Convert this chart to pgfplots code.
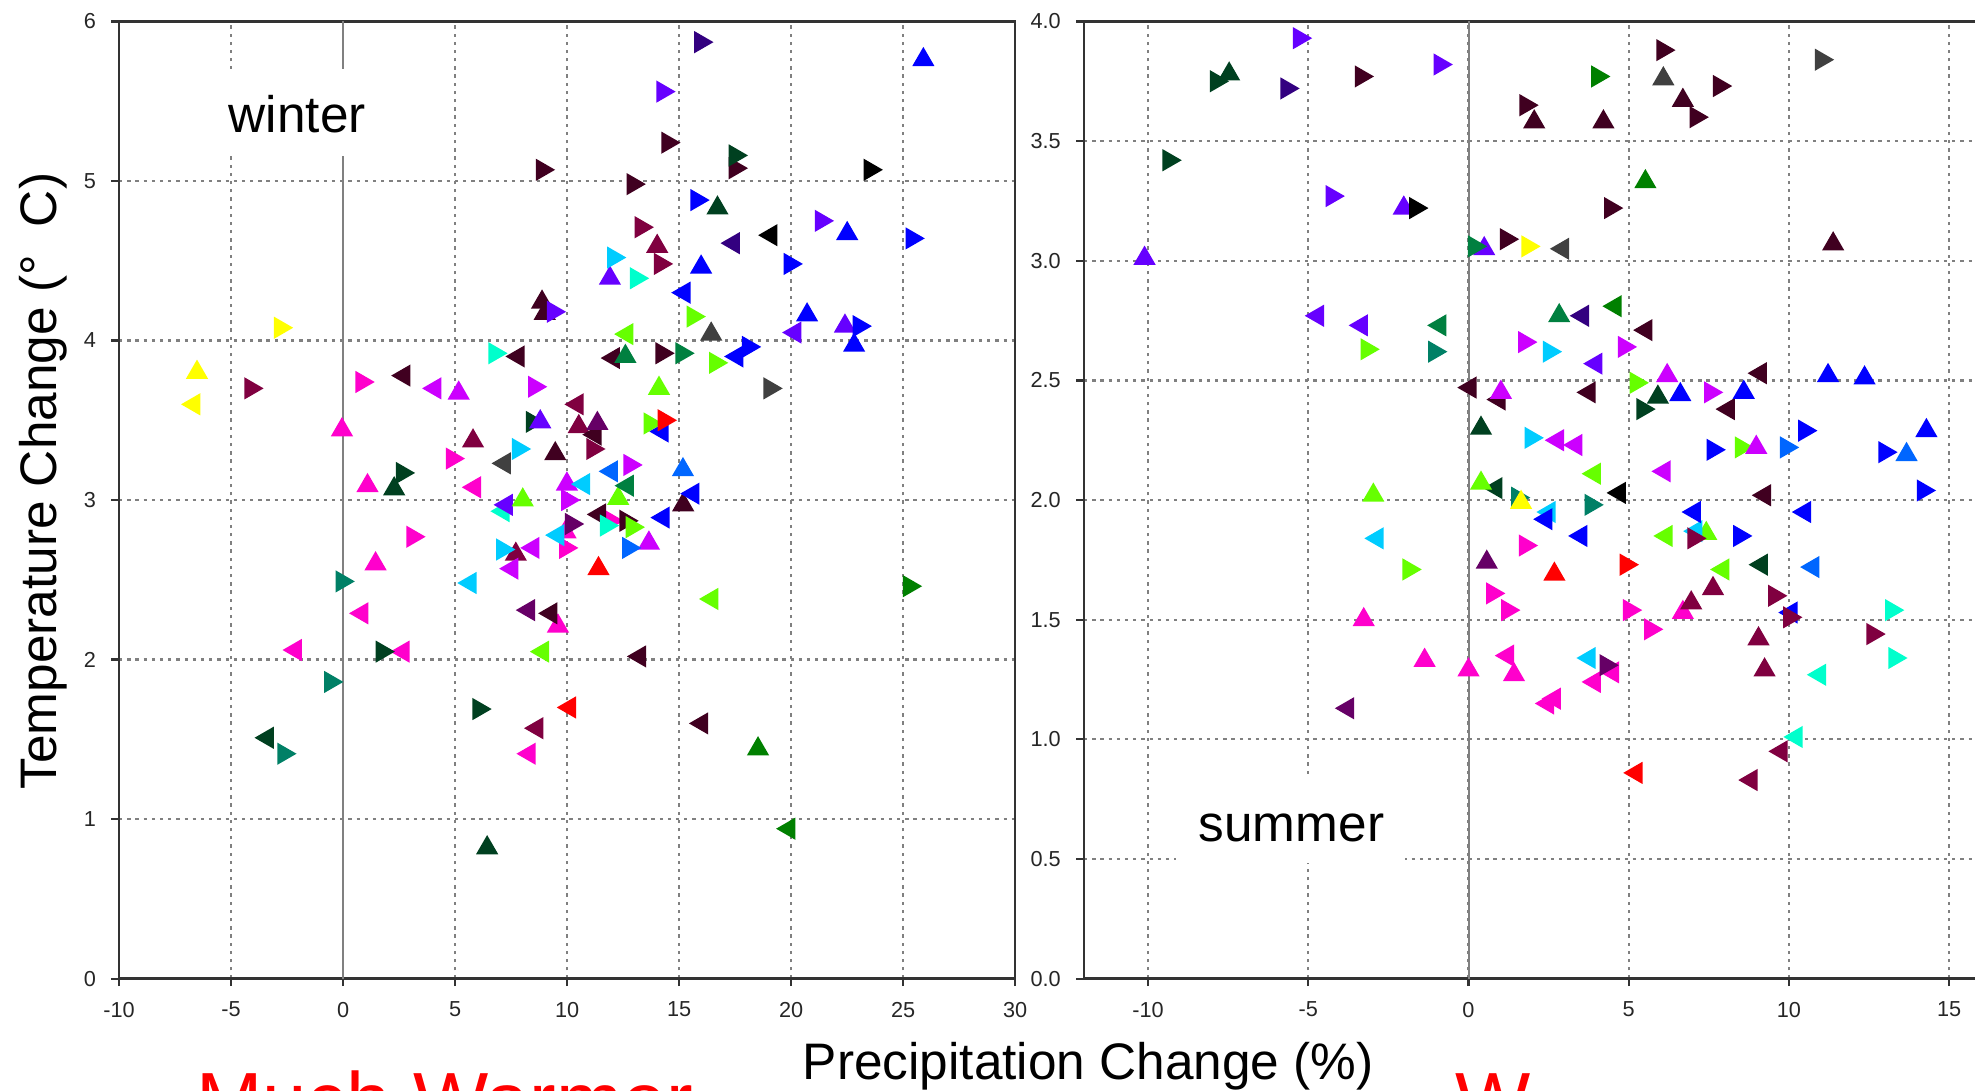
\documentclass[border=0pt]{standalone}
\usepackage{fontspec}
\setmainfont{Liberation Sans}
\usepackage{pgfplots}
\pgfplotsset{compat=1.18}

\definecolor{cyel}{HTML}{FFFF00}
\definecolor{cmar}{HTML}{800040}
\definecolor{cdmar}{HTML}{400020}
\definecolor{cpnk}{HTML}{FF00CC}
\definecolor{cvio}{HTML}{CC00FF}
\definecolor{cbvio}{HTML}{6600FF}
\definecolor{cindi}{HTML}{330080}
\definecolor{caqua}{HTML}{00FFCC}
\definecolor{csky}{HTML}{00CCFF}
\definecolor{cdodg}{HTML}{0066FF}
\definecolor{cblue}{HTML}{0000FF}
\definecolor{clime}{HTML}{66FF00}
\definecolor{csea}{HTML}{008040}
\definecolor{cdgr}{HTML}{004020}
\definecolor{cteal}{HTML}{008066}
\definecolor{cgrn}{HTML}{008000}
\definecolor{cred}{HTML}{FF0000}
\definecolor{cdgray}{HTML}{404040}
\definecolor{cblk}{HTML}{000000}
\definecolor{cdpur}{HTML}{660066}

% U = pointing up, L = pointing left, R = pointing right
\pgfplotsset{
  U/.style={only marks, mark=triangle*, mark size=2.5pt, color=#1, mark options={solid}},
  L/.style={U=#1, mark options={solid, rotate=90}},
  R/.style={U=#1, mark options={solid, rotate=-90}},
  panel/.style={
    scale only axis, height=7.60cm,
    tick pos=left, tick align=outside, major tick length=0.06cm,
    grid=major,
    major grid style={gray, line width=0.5pt, dash pattern=on 0.75pt off 1.1pt},
    axis line style={black!80, line width=0.55pt},
    tick style={black!80, line width=0.5pt},
    ticklabel style={font=\fontsize{4.9}{5.5}\selectfont, text=black!85},
    /pgf/number format/assume math mode=true,
  },
}

\begin{document}
\begin{tikzpicture}

% ---------------- winter ----------------
\begin{axis}[panel, at={(0.945cm,0.89cm)}, anchor=south west, width=7.115cm,
  xmin=-10, xmax=30, ymin=0, ymax=6,
  xtick={-10,-5,...,30}, ytick={0,1,...,6}]
\draw[gray, line width=0.45pt] (axis cs:0,0) -- (axis cs:0,6);
\addplot[U=cyel] coordinates {(-6.52,3.80)};
\addplot[L=cyel] coordinates {(-6.66,3.60)};
\addplot[R=cyel] coordinates {(-2.80,4.08)};
\addplot[R=cmar] coordinates {(-4.12,3.70) (13.30,4.71) (14.16,4.48) (11.14,3.32)};
\addplot[U=cmar] coordinates {(14.02,4.59) (10.52,3.46) (5.80,3.37) (7.71,2.66)};
\addplot[L=cmar] coordinates {(10.45,3.60) (8.65,1.57)};
\addplot[U=cpnk] coordinates {(-0.05,3.44) (1.09,3.09) (9.93,2.80) (1.45,2.60) (9.59,2.21)};
\addplot[R=cpnk] coordinates {(0.84,3.74) (4.87,3.26) (11.95,2.87) (9.93,2.70) (3.11,2.77)};
\addplot[L=cpnk] coordinates {(5.87,3.08) (0.84,2.29) (-2.13,2.06) (2.68,2.05) (8.31,1.41)};
\addplot[L=cdmar] coordinates {(2.72,3.78) (7.82,3.90) (12.07,3.89) (11.25,3.41) (11.45,2.91) (9.28,2.29) (13.24,2.02) (16.01,1.60)};
\addplot[U=cdmar] coordinates {(8.88,4.24) (9.00,4.17) (9.47,3.29) (15.18,2.97)};
\addplot[R=cdmar] coordinates {(8.89,5.07) (12.94,4.98) (14.49,5.24) (17.50,5.08) (14.23,3.92) (12.62,2.87)};
\addplot[L=cvio] coordinates {(4.10,3.70) (8.48,2.70) (7.54,2.57)};
\addplot[U=cvio] coordinates {(5.16,3.67) (9.99,3.10) (13.65,2.73)};
\addplot[R=cvio] coordinates {(8.54,3.71) (12.80,3.22) (10.02,3.00)};
\addplot[R=caqua] coordinates {(6.77,3.92) (13.09,4.39) (11.75,2.84)};
\addplot[L=caqua] coordinates {(7.15,2.93)};
\addplot[R=cdgr] coordinates {(8.44,3.49) (17.50,5.16) (2.64,3.17) (1.74,2.05) (6.06,1.69)};
\addplot[U=cdgr] coordinates {(16.71,4.83) (2.28,3.07) (6.43,0.82)};
\addplot[L=cdgr] coordinates {(-3.38,1.51)};
\addplot[U=cbvio] coordinates {(8.80,3.49) (11.91,4.39) (22.40,4.09)};
\addplot[R=cbvio] coordinates {(9.38,4.18) (14.27,5.56) (21.34,4.75)};
\addplot[L=cbvio] coordinates {(20.17,4.05) (7.29,2.97)};
\addplot[R=cindi] coordinates {(15.96,5.87)};
\addplot[L=cindi] coordinates {(17.42,4.61)};
\addplot[R=cblk] coordinates {(23.52,5.07)};
\addplot[L=cblk] coordinates {(19.10,4.66)};
\addplot[U=cblue] coordinates {(25.90,5.76) (15.98,4.46) (22.50,4.67) (20.71,4.16) (22.81,3.97)};
\addplot[R=cblue] coordinates {(15.79,4.88) (25.39,4.64) (19.95,4.48) (23.03,4.09) (18.09,3.96)};
\addplot[L=cblue] coordinates {(15.22,4.30) (17.58,3.90) (14.24,3.43) (15.62,3.04) (14.29,2.89)};
\addplot[R=csky] coordinates {(12.07,4.52) (7.82,3.32) (7.12,2.69)};
\addplot[L=csky] coordinates {(10.74,3.10) (9.59,2.78) (5.67,2.48)};
\addplot[R=clime] coordinates {(15.62,4.15) (16.62,3.86) (13.70,3.48) (12.90,2.83)};
\addplot[L=clime] coordinates {(12.67,4.04) (8.91,2.05) (16.46,2.38)};
\addplot[U=clime] coordinates {(14.10,3.70) (8.02,3.00) (12.28,3.01)};
\addplot[U=cdgray] coordinates {(16.43,4.04)};
\addplot[R=cdgray] coordinates {(19.05,3.70)};
\addplot[L=cdgray] coordinates {(7.20,3.23)};
\addplot[U=csea] coordinates {(12.60,3.90)};
\addplot[R=csea] coordinates {(15.12,3.92)};
\addplot[L=csea] coordinates {(12.69,3.09)};
\addplot[U=cdpur] coordinates {(11.35,3.48)};
\addplot[R=cdpur] coordinates {(10.19,2.85)};
\addplot[L=cdpur] coordinates {(8.28,2.31)};
\addplot[R=cred] coordinates {(14.33,3.50)};
\addplot[U=cred] coordinates {(11.40,2.57)};
\addplot[L=cred] coordinates {(10.11,1.70)};
\addplot[L=cdodg] coordinates {(11.98,3.18)};
\addplot[U=cdodg] coordinates {(15.17,3.19)};
\addplot[R=cdodg] coordinates {(12.74,2.70)};
\addplot[R=cteal] coordinates {(-0.05,2.49) (-0.56,1.86) (-2.65,1.41)};
\addplot[R=cgrn] coordinates {(25.27,2.46)};
\addplot[U=cgrn] coordinates {(18.52,1.44)};
\addplot[L=cgrn] coordinates {(19.90,0.94)};
\end{axis}

% ---------------- summer ----------------
\begin{axis}[panel, at={(8.606cm,0.89cm)}, anchor=south west, width=7.123cm,
  xmin=-12, xmax=16, ymin=0, ymax=4,
  xtick={-10,-5,...,15}, ytick={0,0.5,...,4},
  yticklabel style={/pgf/number format/.cd, fixed, fixed zerofill, precision=1}]
\draw[gray, line width=0.45pt] (axis cs:0,0) -- (axis cs:0,4);
\addplot[U=cbvio] coordinates {(-10.11,3.01) (-2.02,3.22) (0.49,3.05)};
\addplot[R=cbvio] coordinates {(-5.28,3.93) (-0.89,3.82) (-4.26,3.27)};
\addplot[L=cbvio] coordinates {(-4.71,2.77) (-3.34,2.73) (3.98,2.57)};
\addplot[R=cdgr] coordinates {(-9.35,3.42) (-7.87,3.75) (5.44,2.38)};
\addplot[U=cdgr] coordinates {(-7.47,3.78) (0.39,2.30) (5.91,2.43)};
\addplot[L=cdgr] coordinates {(0.86,2.05) (9.14,1.73)};
\addplot[R=cindi] coordinates {(-5.67,3.72)};
\addplot[L=cindi] coordinates {(3.56,2.77)};
\addplot[R=cdmar] coordinates {(-3.35,3.77) (1.18,3.09) (6.06,3.88) (7.83,3.73) (7.10,3.60) (1.79,3.65) (4.43,3.22)};
\addplot[U=cdmar] coordinates {(6.69,3.67) (2.05,3.58) (4.21,3.58) (11.38,3.07)};
\addplot[L=cdmar] coordinates {(0.05,2.47) (0.96,2.42) (5.54,2.71) (9.11,2.53) (3.77,2.45) (8.11,2.38) (9.24,2.02)};
\addplot[R=cblk] coordinates {(-1.65,3.22)};
\addplot[L=cblk] coordinates {(4.71,2.03)};
\addplot[R=clime] coordinates {(-3.17,2.63) (5.23,2.49) (8.51,2.22) (-1.86,1.71)};
\addplot[U=clime] coordinates {(-2.97,2.02) (0.39,2.07) (7.42,1.86)};
\addplot[L=clime] coordinates {(3.93,2.11) (6.17,1.85) (7.94,1.71)};
\addplot[L=csea] coordinates {(-0.89,2.73)};
\addplot[R=csea] coordinates {(0.18,3.06)};
\addplot[U=csea] coordinates {(2.83,2.77)};
\addplot[R=cteal] coordinates {(-1.06,2.62) (1.53,2.01) (3.82,1.98)};
\addplot[R=cyel] coordinates {(1.85,3.06)};
\addplot[U=cyel] coordinates {(1.64,1.99)};
\addplot[U=cvio] coordinates {(1.01,2.45) (6.20,2.52) (8.98,2.22)};
\addplot[R=cvio] coordinates {(1.75,2.66) (4.86,2.64) (7.55,2.45)};
\addplot[L=cvio] coordinates {(2.78,2.25) (3.35,2.23) (6.11,2.12)};
\addplot[R=csky] coordinates {(1.95,2.26) (2.52,2.62)};
\addplot[L=csky] coordinates {(-2.85,1.84) (2.52,1.95) (7.10,1.87) (3.77,1.34)};
\addplot[U=cdgray] coordinates {(6.08,3.76)};
\addplot[R=cdgray] coordinates {(11.01,3.84)};
\addplot[L=cdgray] coordinates {(2.94,3.05)};
\addplot[R=cgrn] coordinates {(4.03,3.77)};
\addplot[U=cgrn] coordinates {(5.52,3.33)};
\addplot[L=cgrn] coordinates {(4.58,2.81)};
\addplot[U=cblue] coordinates {(11.22,2.52) (12.36,2.51) (6.61,2.44) (8.59,2.45) (14.29,2.29)};
\addplot[R=cblue] coordinates {(10.49,2.29) (7.63,2.21) (12.99,2.20) (14.19,2.04) (8.46,1.85)};
\addplot[L=cblue] coordinates {(2.42,1.92) (3.51,1.85) (7.05,1.95) (10.49,1.95) (10.07,1.53)};
\addplot[R=cdodg] coordinates {(9.92,2.22)};
\addplot[U=cdodg] coordinates {(13.67,2.19)};
\addplot[L=cdodg] coordinates {(10.75,1.72)};
\addplot[U=cpnk] coordinates {(-3.27,1.50) (-1.37,1.33) (0.00,1.29) (1.42,1.27) (6.69,1.53)};
\addplot[R=cpnk] coordinates {(0.75,1.61) (1.22,1.54) (1.77,1.81) (5.02,1.54) (5.68,1.46)};
\addplot[L=cpnk] coordinates {(1.22,1.35) (4.50,1.28) (3.93,1.24) (2.47,1.15) (2.68,1.17)};
\addplot[L=cdpur] coordinates {(-3.77,1.13)};
\addplot[U=cdpur] coordinates {(0.57,1.74)};
\addplot[R=cdpur] coordinates {(4.29,1.31)};
\addplot[U=cred] coordinates {(2.68,1.69)};
\addplot[R=cred] coordinates {(4.92,1.73)};
\addplot[L=cred] coordinates {(5.23,0.86)};
\addplot[R=cmar] coordinates {(7.03,1.84) (9.55,1.60) (10.02,1.51) (12.62,1.44)};
\addplot[U=cmar] coordinates {(7.63,1.63) (6.95,1.57) (9.05,1.42) (9.24,1.29)};
\addplot[L=cmar] coordinates {(9.76,0.95) (8.82,0.83)};
\addplot[R=caqua] coordinates {(13.20,1.54) (13.30,1.34)};
\addplot[L=caqua] coordinates {(10.96,1.27) (10.23,1.01)};
\end{axis}

% season labels on white boxes
\fill[white] (1.68,7.42) rectangle (3.02,8.11);
\node[anchor=base west, inner sep=0pt, font=\fontsize{11.6}{13}\selectfont] at (1.81,7.604) {winter};
\fill[white] (9.34,1.81) rectangle (11.155,2.49);
\node[anchor=base west, inner sep=0pt, font=\fontsize{11.6}{13}\selectfont] at (9.51,1.983) {summer};

% axis titles
\node[rotate=90, font=\fontsize{11.6}{13}\selectfont] at (0.34,4.84) {Temperature Change (°\hspace{0.55em}C)};
\node[anchor=base, inner sep=0pt, font=\fontsize{11.6}{13}\selectfont] at (8.64,0.09) {Precipitation Change (\%)};

% red captions, cut by the lower edge as in the source slide
\node[anchor=base west, inner sep=0pt, text=red, font=\fontsize{18}{20}\selectfont] at (1.55,-0.30) {Much Warmer};
\node[anchor=base west, inner sep=0pt, text=red, font=\fontsize{18}{20}\selectfont] at (11.55,-0.30) {W};

\pgfresetboundingbox
\useasboundingbox (0,0) rectangle (15.68,8.66);
\end{tikzpicture}
\end{document}
